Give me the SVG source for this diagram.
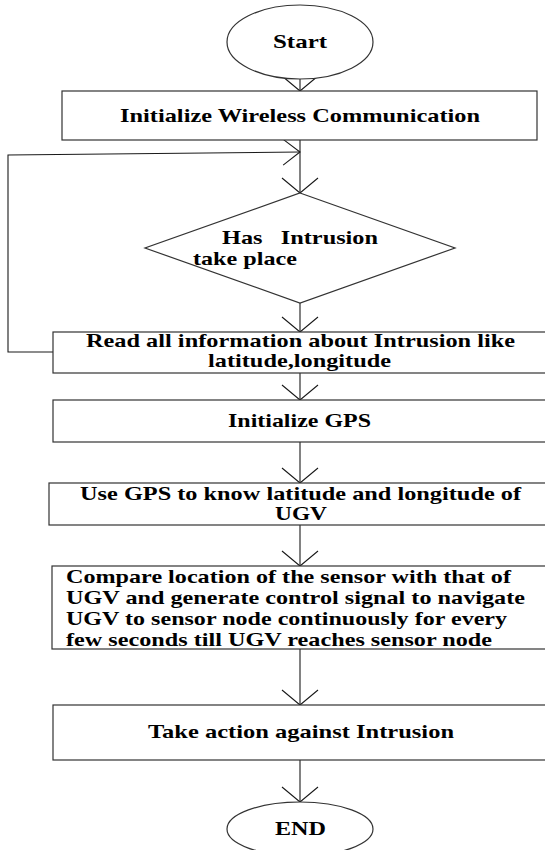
<svg xmlns="http://www.w3.org/2000/svg" width="545" height="850" viewBox="0 0 545 850">
  <style>
    .shape { fill: #ffffff; stroke: #333333; stroke-width: 1.2; }
    .conn { fill: none; stroke: #1a1a1a; stroke-width: 1.1; }
    .lbl { font-family: "Liberation Serif", "Times New Roman", serif; font-weight: bold; font-size: 18.5px; fill: #000000; }
  </style>
  <defs>
    <!-- open V head for the downward flow lines -->
    <marker id="vhead" markerUnits="userSpaceOnUse" viewBox="-17 -20 19 40" markerWidth="19" markerHeight="40" refX="0" refY="0" orient="auto" overflow="visible">
      <path d="M-15,-18 L0,0 L-15,18" fill="none" stroke="#1a1a1a" stroke-width="1.1"/>
    </marker>
    <!-- open V head for the loop-back line entering from the left -->
    <marker id="vhead-side" markerUnits="userSpaceOnUse" viewBox="-19 -15 21 30" markerWidth="21" markerHeight="30" refX="0" refY="0" orient="auto" overflow="visible">
      <path d="M-17,-13 L0,0 L-17,13" fill="none" stroke="#1a1a1a" stroke-width="1.1"/>
    </marker>
  </defs>

  <rect width="545" height="850" fill="#ffffff"/>

  <g id="connectors">
    <line class="conn" x1="300" y1="79" x2="300" y2="91" marker-end="url(#vhead)"/>
    <line class="conn" x1="300" y1="140" x2="300" y2="193" marker-end="url(#vhead)"/>
    <polyline class="conn" points="53,352 8,352 8,155 300,152" marker-end="url(#vhead-side)"/>
    <line class="conn" x1="300" y1="303" x2="300" y2="332" marker-end="url(#vhead)"/>
    <line class="conn" x1="300" y1="373" x2="300" y2="400" marker-end="url(#vhead)"/>
    <line class="conn" x1="300" y1="442" x2="300" y2="483" marker-end="url(#vhead)"/>
    <line class="conn" x1="300" y1="525" x2="300" y2="566" marker-end="url(#vhead)"/>
    <line class="conn" x1="300" y1="649" x2="300" y2="705" marker-end="url(#vhead)"/>
    <line class="conn" x1="300" y1="760" x2="300" y2="802" marker-end="url(#vhead)"/>
  </g>

  <!-- labels are set in a wide bold serif: type stretched 1.35x horizontally -->
  <g id="start">
    <ellipse class="shape" cx="300" cy="42" rx="73" ry="37"/>
    <text class="lbl" transform="translate(273,48) scale(1.35,1)" textLength="40" lengthAdjust="spacingAndGlyphs">Start</text>
  </g>

  <g id="init-wireless">
    <rect class="shape" x="62" y="91" width="475" height="49"/>
    <text class="lbl" transform="translate(120,122) scale(1.35,1)" textLength="266.7" lengthAdjust="spacingAndGlyphs">Initialize Wireless Communication</text>
  </g>

  <g id="intrusion-check">
    <polygon class="shape" points="300,193 455,248 300,303 145,248"/>
    <text class="lbl" transform="translate(222,244) scale(1.35,1)" textLength="115.6" lengthAdjust="spacingAndGlyphs" xml:space="preserve">Has   Intrusion</text>
    <text class="lbl" transform="translate(193,265) scale(1.35,1)" textLength="77" lengthAdjust="spacingAndGlyphs">take place</text>
  </g>

  <g id="read-info">
    <rect class="shape" x="53" y="332" width="500" height="41"/>
    <text class="lbl" transform="translate(86,347) scale(1.35,1)" textLength="317.8" lengthAdjust="spacingAndGlyphs">Read all information about Intrusion like</text>
    <text class="lbl" transform="translate(208,367) scale(1.35,1)" textLength="135.6" lengthAdjust="spacingAndGlyphs">latitude,longitude</text>
  </g>

  <g id="init-gps">
    <rect class="shape" x="53" y="400" width="500" height="42"/>
    <text class="lbl" transform="translate(228,427) scale(1.35,1)" textLength="105.9" lengthAdjust="spacingAndGlyphs">Initialize GPS</text>
  </g>

  <g id="use-gps">
    <rect class="shape" x="49" y="483" width="504" height="42"/>
    <text class="lbl" transform="translate(80,500) scale(1.35,1)" textLength="326.7" lengthAdjust="spacingAndGlyphs">Use GPS to know latitude and longitude of</text>
    <text class="lbl" transform="translate(275,520) scale(1.35,1)" textLength="38.5" lengthAdjust="spacingAndGlyphs">UGV</text>
  </g>

  <g id="compare-navigate">
    <rect class="shape" x="52" y="566" width="501" height="83"/>
    <text class="lbl" transform="translate(66,583) scale(1.35,1)" textLength="329.6" lengthAdjust="spacingAndGlyphs">Compare location of the sensor with that of</text>
    <text class="lbl" transform="translate(66,604) scale(1.35,1)" textLength="340" lengthAdjust="spacingAndGlyphs">UGV and generate control signal to navigate</text>
    <text class="lbl" transform="translate(66,625) scale(1.35,1)" textLength="326.7" lengthAdjust="spacingAndGlyphs">UGV to sensor node continuously for every</text>
    <text class="lbl" transform="translate(66,646) scale(1.35,1)" textLength="315.6" lengthAdjust="spacingAndGlyphs">few seconds till UGV reaches sensor node</text>
  </g>

  <g id="take-action">
    <rect class="shape" x="53" y="705" width="500" height="55"/>
    <text class="lbl" transform="translate(148,738) scale(1.35,1)" textLength="226.7" lengthAdjust="spacingAndGlyphs">Take action against Intrusion</text>
  </g>

  <g id="end">
    <ellipse class="shape" cx="300" cy="829" rx="73" ry="27"/>
    <text class="lbl" transform="translate(275,835) scale(1.35,1)" textLength="37.8" lengthAdjust="spacingAndGlyphs">END</text>
  </g>
</svg>
